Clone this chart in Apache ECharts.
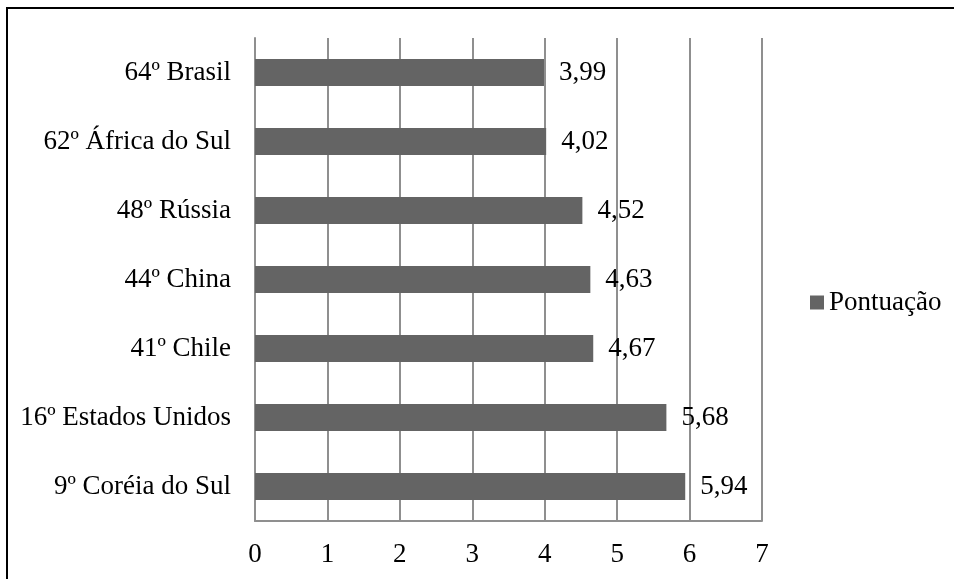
<!DOCTYPE html>
<html>
<head>
<meta charset="utf-8">
<script src="https://cdn.jsdelivr.net/npm/echarts@6/dist/echarts.min.js"></script>
<style>
  html, body { margin: 0; padding: 0; background: #fff; }
  #chart { width: 954px; height: 579px; }
</style>
</head>
<body>
<div id="chart"></div>
<script>
// Countries listed top to bottom with their ranking position
const categories = [
  '64º Brasil',
  '62º África do Sul',
  '48º Rússia',
  '44º China',
  '41º Chile',
  '16º Estados Unidos',
  '9º Coréia do Sul'
];
const pontuacao = [3.99, 4.02, 4.52, 4.63, 4.67, 5.68, 5.94];
const seriesName = 'Pontuação';
const xTicks = { min: 0, max: 7, interval: 1 };

const FONT = 'Liberation Serif';
const FS = 27;
const BAR = '#646464';
const GRID = '#8f8f8f';

const chart = echarts.init(document.getElementById('chart'), null, { renderer: 'canvas' });

chart.setOption({
  animation: false,
  backgroundColor: '#ffffff',
  // outer frame of the figure
  graphic: [{
    type: 'rect',
    shape: { x: 7, y: 8, width: 1000, height: 1000 },
    style: { fill: 'none', stroke: '#000', lineWidth: 2 },
    silent: true
  }],
  grid: { left: 255, top: 38, right: 192, bottom: 58, containLabel: false },
  legend: {
    data: [seriesName],
    orient: 'vertical',
    left: 805,
    top: 284,
    icon: 'rect',
    itemWidth: 14,
    itemHeight: 14,
    itemGap: 0,
    textStyle: { fontFamily: FONT, fontSize: FS, color: '#000' }
  },
  xAxis: {
    type: 'value',
    min: xTicks.min,
    max: xTicks.max,
    interval: xTicks.interval,
    axisLine: { show: true, lineStyle: { color: GRID, width: 2 } },
    axisTick: { show: false },
    splitLine: { show: true, lineStyle: { color: GRID, width: 2 } },
    axisLabel: {
      fontFamily: FONT, fontSize: FS, color: '#000', margin: 20,
      formatter: v => String(v)
    }
  },
  yAxis: {
    type: 'category',
    data: categories,
    inverse: true,
    axisLine: { show: true, lineStyle: { color: GRID, width: 2 } },
    axisTick: { show: false },
    splitLine: { show: false },
    axisLabel: { fontFamily: FONT, fontSize: FS, color: '#000', margin: 24 }
  },
  series: [{
    name: seriesName,
    type: 'bar',
    data: pontuacao,
    barWidth: 27,
    itemStyle: { color: BAR },
    label: {
      show: true,
      position: 'right',
      distance: 15,
      fontFamily: FONT,
      fontSize: FS,
      color: '#000',
      formatter: p => p.value.toFixed(2).replace('.', ',')
    }
  }]
});
</script>
</body>
</html>
